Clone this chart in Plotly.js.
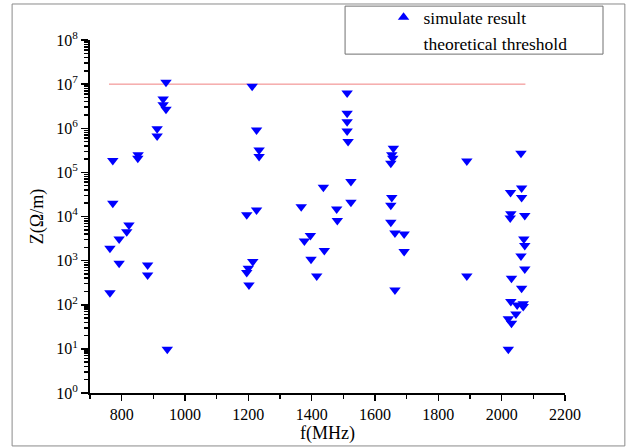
<!DOCTYPE html>
<html>
<head>
<meta charset="utf-8">
<script src="https://cdn.plot.ly/plotly-3.0.1.min.js"></script>
<style>html,body{margin:0;padding:0;background:#fff;}#chart{width:643px;height:448px;}</style>
</head>
<body>
<div id="chart"></div>
<script>
// Simulated results: frequency (MHz) and impedance Z (Ohm/m)
const simF = [940, 931, 931, 940, 912, 912, 1212, 1226, 1234, 1234,
  772, 852, 851, 772, 1195, 1226, 823, 816, 792, 763,
  792, 882, 882, 763, 944, 1214, 1200, 1195, 1202,
  1512, 1512, 1512, 1512, 1515, 1524, 1524, 1437, 1367, 1479, 1481,
  1396, 1377, 1440, 1398, 1416,
  1658, 1653, 1656, 1650, 1653, 1650, 1650, 1663, 1692, 1692, 1663,
  1890, 1890,
  2061, 2028, 2063, 2063, 2029, 2027, 2073, 2070, 2073, 2061, 2073,
  2031, 2063, 2029, 2049, 2068, 2068, 2045, 2021, 2031, 2021];
const simZ = [1.1e7, 4.6e6, 3.4e6, 2.7e6, 9.8e5, 6.7e5, 8.9e6, 9.1e5, 3.2e5, 2.3e5,
  1.85e5, 2.5e5, 2.1e5, 2.0e4, 1.1e4, 1.4e4, 6.4e3, 4.5e3, 3.1e3, 1.9e3,
  870, 800, 475, 188, 9.8, 950, 670, 535, 282,
  6.3e6, 2.2e6, 1.4e6, 8.7e5, 5.0e5, 6.2e4, 2.1e4, 4.6e4, 1.67e4, 1.48e4, 8.1e3,
  3.7e3, 2.8e3, 1.7e3, 1.07e3, 450,
  3.5e5, 2.5e5, 2.1e5, 1.6e5, 2.7e4, 1.8e4, 7.4e3, 4.2e3, 4.0e3, 1.6e3, 215,
  1.8e5, 450,
  2.7e5, 3.5e4, 4.4e4, 2.7e4, 1.15e4, 9.2e3, 1.05e4, 3.1e3, 2.2e3, 1.28e3, 650,
  400, 236, 118, 99, 105, 91, 62, 48, 38, 9.8];
// Theoretical threshold line
const thresholdF = [760, 2075];
const thresholdZ = [1e7, 1e7];
// Axis ticks
const yTickVals = [1, 10, 100, 1e3, 1e4, 1e5, 1e6, 1e7, 1e8];
const yTickText = ['10<sup>0</sup>', '10<sup>1</sup>', '10<sup>2</sup>', '10<sup>3</sup>',
  '10<sup>4</sup>', '10<sup>5</sup>', '10<sup>6</sup>', '10<sup>7</sup>', '10<sup>8</sup>'];
const seriesNames = ['simulate result', 'theoretical threshold'];

const font = 'Liberation Serif, Times New Roman, serif';

const traces = [
  {x: thresholdF, y: thresholdZ, mode: 'lines', line: {color: '#f08080', width: 1}, showlegend: false, hoverinfo: 'skip'},
  {x: simF, y: simZ, mode: 'markers', marker: {symbol: 'triangle-down', size: 10, color: '#0000ff'}, showlegend: false},
  {x: [null], y: [null], mode: 'markers', name: seriesNames[0], marker: {symbol: 'triangle-up', size: 10, color: '#0000ff'}},
  {x: [null], y: [null], mode: 'none', name: seriesNames[1]}
];

const layout = {
  width: 643, height: 448,
  margin: {l: 90, r: 78, t: 40, b: 55, autoexpand: false},
  paper_bgcolor: '#ffffff', plot_bgcolor: '#ffffff',
  font: {family: font, color: '#000', size: 16},
  xaxis: {
    range: [700, 2200], tick0: 0, dtick: 200,
    ticks: 'outside', ticklen: 6, tickwidth: 1.5, tickcolor: '#000',
    showline: true, linecolor: '#000', linewidth: 2, mirror: false,
    showgrid: false, zeroline: false,
    minor: {dtick: 100, ticks: 'outside', ticklen: 4, tickcolor: '#000', showgrid: false},
    tickfont: {family: font, size: 16},
    title: {text: 'f(MHz)', font: {family: font, size: 18}, standoff: 4}
  },
  yaxis: {
    type: 'log', range: [0, 8],
    tickmode: 'array', tickvals: yTickVals, ticktext: yTickText,
    ticks: 'outside', ticklen: 7, tickwidth: 1.5, tickcolor: '#000',
    showline: true, linecolor: '#000', linewidth: 2, mirror: false,
    showgrid: false, zeroline: false,
    minor: {dtick: 'D1', ticks: 'outside', ticklen: 4, tickcolor: '#000', showgrid: false},
    tickfont: {family: font, size: 16},
    title: {text: 'Z(Ω/m)', font: {family: font, size: 18}}
  },
  legend: {
    x: 0.618, y: 1.115, xanchor: 'left', yanchor: 'top',
    bgcolor: 'rgba(0,0,0,0)', borderwidth: 0,
    font: {family: font, size: 17.5, color: '#000'},
    tracegroupgap: 0
  },
  shapes: [
    {type: 'rect', xref: 'paper', yref: 'paper', x0: -0.164, x1: 1.126, y0: -0.150, y1: 1.102,
      line: {color: '#8a8a8a', width: 1}, fillcolor: 'rgba(0,0,0,0)', layer: 'below'},
    {type: 'rect', xref: 'paper', yref: 'paper', x0: 0.537, x1: 1.08, y0: 0.960, y1: 1.096,
      line: {color: '#707070', width: 1}, fillcolor: '#ffffff', layer: 'below'}
  ]
};

Plotly.newPlot('chart', traces, layout, {displayModeBar: false, staticPlot: true});
</script>
</body>
</html>
